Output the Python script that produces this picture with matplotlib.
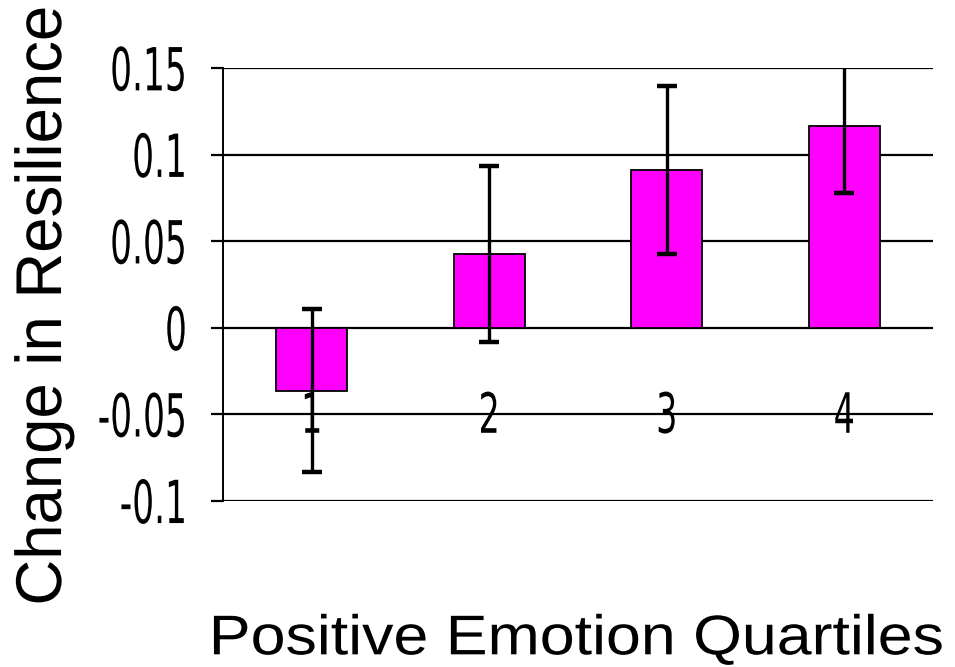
import matplotlib
matplotlib.use("Agg")
import matplotlib.pyplot as plt
from matplotlib.patheffects import AbstractPathEffect
from matplotlib.transforms import Affine2D

categories = ["1", "2", "3", "4"]
values = [-0.0362, 0.0428, 0.0910, 0.1167]
errors = [0.047, 0.051, 0.0485, 0.0387]
yticks = [-0.1, -0.05, 0, 0.05, 0.1, 0.15]
ytick_labels = ["-0.1", "-0.05", "0", "0.05", "0.1", "0.15"]


class Stretch(AbstractPathEffect):
    """Render text glyphs scaled in the text's own frame."""

    def __init__(self, sx=1.0, sy=1.0, anchor="center", yanchor="baseline"):
        super().__init__()
        self.sx, self.sy = sx, sy
        self.anchor, self.yanchor = anchor, yanchor

    def draw_path(self, renderer, gc, tpath, affine, rgbFace=None):
        ext = tpath.get_extents()
        if self.anchor == "left":
            a = ext.x0
        elif self.anchor == "right":
            a = ext.x1
        else:
            a = 0.5 * (ext.x0 + ext.x1)
        b = 0.0 if self.yanchor == "baseline" else 0.5 * (ext.y0 + ext.y1)
        t = (Affine2D().translate(-a, -b).scale(self.sx, self.sy)
             .translate(a, b) + affine)
        renderer.draw_path(gc, tpath, t, rgbFace)


fig = plt.figure(figsize=(9.55, 6.67), dpi=100)
ax = fig.add_axes([0.2335, 0.2489, 0.977 - 0.2335, 0.8976 - 0.2489])

x = list(range(len(categories)))
ax.bar(x, values, width=0.4, color="#FF00FF", edgecolor="black", linewidth=1.3, zorder=2)
ax.errorbar(x, values, yerr=errors, fmt="none", ecolor="black", elinewidth=2.4,
            capsize=7.5, capthick=3.2, zorder=3)

ax.set_xlim(-0.5, len(categories) - 0.5)
ax.set_ylim(-0.1, 0.15)
ax.set_yticks(yticks)
ax.set_yticklabels(ytick_labels)
ax.yaxis.grid(True, color="black", linewidth=1.6, zorder=1)
ax.set_axisbelow(True)
ax.set_xticks([])
for s in ["top", "right", "bottom"]:
    ax.spines[s].set_visible(False)
ax.spines["left"].set_linewidth(1.4)
ax.tick_params(axis="y", length=9, width=1.6, pad=17)

for lab in ax.get_yticklabels():
    lab.set_fontsize(24.8)
    lab.set_family("DejaVu Sans")
    lab.set_path_effects([Stretch(sy=1.724, anchor="right", yanchor="center")])

for xi, c in zip(x, categories):
    ax.text(xi, -0.0606, c, ha="center", va="baseline", zorder=2.5,
            family="DejaVu Sans", fontsize=24,
            path_effects=[Stretch(sy=1.667, anchor="center", yanchor="baseline")])

fig.text(0.0639, 0.542, "Change in Resilience", rotation=90, rotation_mode="anchor",
         ha="center", va="baseline", family="Liberation Sans", fontsize=45.7,
         path_effects=[Stretch(sy=1.02, anchor="center")])
fig.text(0.6037, 0.019, "Positive Emotion Quartiles", ha="center", va="baseline",
         family="Liberation Sans", fontsize=40.3,
         path_effects=[Stretch(sx=1.12, anchor="center")])

fig.savefig("out.png", dpi=100)
